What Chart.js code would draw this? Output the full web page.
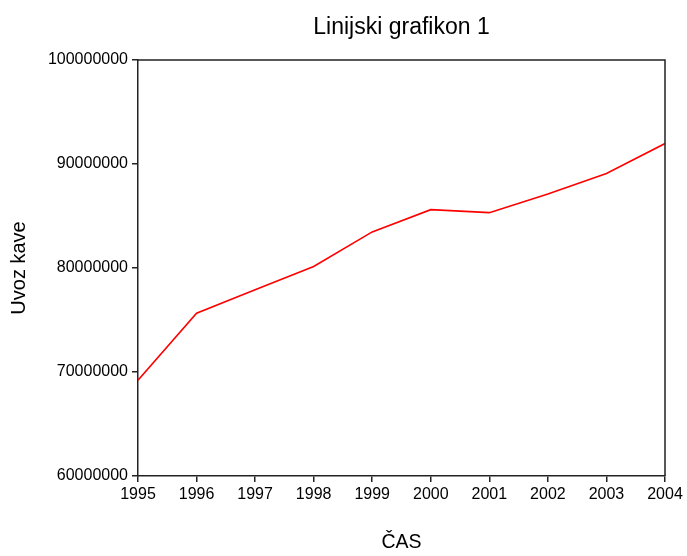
<!DOCTYPE html>
<html>
<head>
<meta charset="utf-8">
<title>Linijski grafikon 1</title>
<script src="https://cdn.jsdelivr.net/npm/chart.js@4.4.1/dist/chart.umd.min.js"></script>
<style>
  body { margin: 0; background: #fff; }
  canvas { display: block; }
</style>
</head>
<body>
<canvas id="chart" width="687" height="556"></canvas>
<script>
// Uvoz kave po letih
const years = [1995, 1996, 1997, 1998, 1999, 2000, 2001, 2002, 2003, 2004];
const imports = [69200000, 75660000, 77900000, 80140000, 83470000, 85610000, 85320000, 87120000, 89090000, 91970000];
const yTicks = [60000000, 70000000, 80000000, 90000000, 100000000];

const chartTitle = "Linijski grafikon 1";
const xTitle = "ČAS";
const yTitle = "Uvoz kave";

const FONT = "'Liberation Sans', Arial, sans-serif";
const AXIS = "#222";

// title, axis titles and the box around the plot
const decorations = {
  id: "decorations",
  afterDraw(chart) {
    const ctx = chart.ctx;
    const a = chart.chartArea;
    const cx = (a.left + a.right) / 2;
    ctx.save();
    ctx.strokeStyle = AXIS;
    ctx.lineWidth = 1.5;
    ctx.beginPath();
    ctx.moveTo(a.left, a.top);
    ctx.lineTo(a.right, a.top);
    ctx.lineTo(a.right, a.bottom);
    ctx.stroke();

    ctx.fillStyle = "#000";
    ctx.textAlign = "center";
    ctx.textBaseline = "middle";
    ctx.font = "23px " + FONT;
    ctx.fillText(chartTitle, cx, 28);

    ctx.font = "19.5px " + FONT;
    ctx.fillText(xTitle, cx, 543);

    ctx.translate(19, (a.top + a.bottom) / 2);
    ctx.rotate(-Math.PI / 2);
    ctx.font = "20px " + FONT;
    ctx.fillText(yTitle, 0, 0);
    ctx.restore();
  }
};

const ctx = document.getElementById("chart").getContext("2d");
new Chart(ctx, {
  type: "line",
  data: {
    datasets: [
      {
        data: years.map((y, i) => ({ x: y, y: imports[i] })),
        borderColor: "#ff0000",
        borderWidth: 1.6,
        pointRadius: 0,
        tension: 0,
        fill: false,
      },
    ],
  },
  options: {
    responsive: false,
    devicePixelRatio: 1,
    animation: false,
    layout: { padding: { top: 60, right: 22, left: 0, bottom: 0 } },
    plugins: { legend: { display: false }, tooltip: { enabled: false }, title: { display: false } },
    scales: {
      x: {
        type: "linear",
        min: years[0],
        max: years[years.length - 1],
        afterBuildTicks: (scale) => {
          scale.ticks = years.map((v) => ({ value: v }));
        },
        ticks: {
          callback: (v) => String(v),
          color: "#000",
          font: { family: FONT, size: 16 },
          padding: 3,
          maxRotation: 0,
          autoSkip: false,
        },
        grid: { drawOnChartArea: false, tickLength: 6, color: AXIS, lineWidth: 1.5 },
        border: { color: AXIS, width: 1.5 },
        afterFit: (scale) => { scale.height = 80; },
      },
      y: {
        min: yTicks[0],
        max: yTicks[yTicks.length - 1],
        afterBuildTicks: (scale) => {
          scale.ticks = yTicks.map((v) => ({ value: v }));
        },
        ticks: {
          callback: (v) => String(v),
          color: "#000",
          font: { family: FONT, size: 16 },
          padding: 4,
        },
        grid: { drawOnChartArea: false, tickLength: 6, color: AXIS, lineWidth: 1.5 },
        border: { color: AXIS, width: 1.5 },
        afterFit: (scale) => { scale.width = 138; },
      },
    },
  },
  plugins: [decorations],
});
</script>
</body>
</html>
